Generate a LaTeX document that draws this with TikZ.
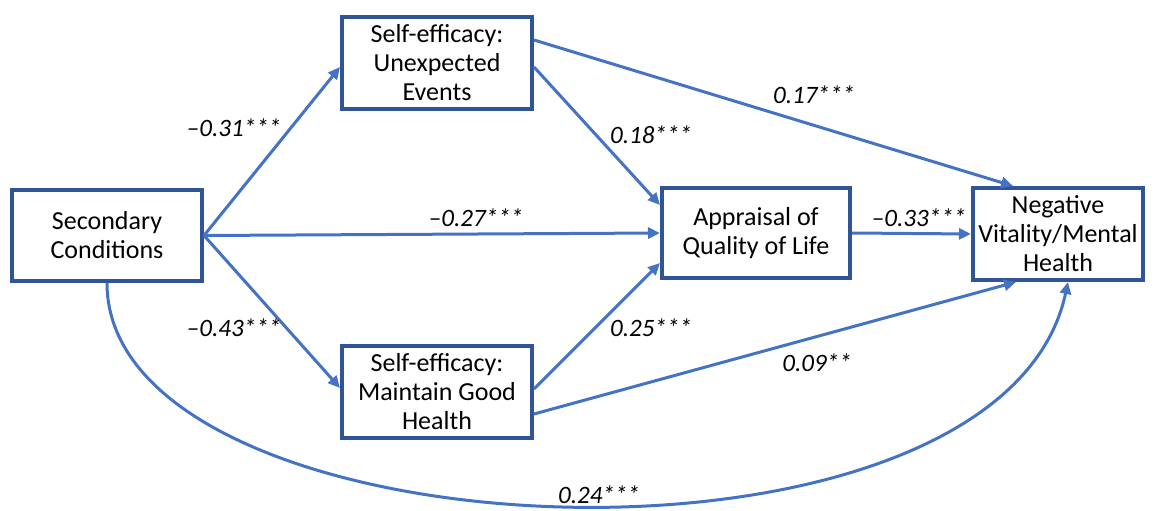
\documentclass[tikz,border=0pt]{standalone}
\usepackage{fontspec}
\setmainfont{Carlito}
\usetikzlibrary{arrows.meta,calc}
\definecolor{lineblue}{HTML}{4472C4}
\definecolor{boxblue}{HTML}{2F5597}
\begin{document}
\begin{tikzpicture}[x=1pt,y=-1pt,
  box/.style={draw=boxblue,line width=4pt,fill=white,align=center,inner sep=0pt,font=\fontsize{26}{29}\selectfont},
  conn/.style={draw=lineblue,line width=3pt,-{Triangle[length=12pt,width=11pt]}},
  lab/.style={font=\fontsize{25}{29}\selectfont\itshape,inner sep=0pt}]
\useasboundingbox (0,0) rectangle (1154,511);
\node[box,minimum width=190pt,minimum height=91pt] (sc) at (107,235.5) {Secondary\\Conditions};
\node[box,minimum width=190pt,minimum height=92pt] (seu) at (437,63) {Self-efficacy:\\Unexpected\\Events};
\node[box,minimum width=188pt,minimum height=90pt] (ap) at (756,233) {Appraisal of\\Quality of Life};
\node[box,minimum width=170pt,minimum height=92pt] (neg) at (1058,234) {Negative\\Vitality/Mental\\Health};
\node[box,minimum width=190pt,minimum height=92pt] (sem) at (437,392) {Self-efficacy:\\Maintain Good\\Health};
% connectors
\draw[conn] (sc.east) -- ($(seu.west)+(0,4)$);
\draw[conn] (sc.east) -- (ap.west);
\draw[conn] (sc.east) -- ($(sem.west)+(0,-4)$);
\draw[conn] ($(seu.east)+(0,-23)$) -- ($(neg.north west)+(42,0)$);
\draw[conn] ($(seu.east)+(0,4)$) -- ($(ap.west)+(0,-28)$);
\draw[conn] ($(sem.east)+(0,-3)$) -- ($(ap.west)+(0,30)$);
\draw[conn] ($(sem.east)+(0,22)$) -- ($(neg.south west)+(45,0)$);
\draw[conn] (ap.east) -- (neg.west);
\draw[conn] (sc.south) .. controls (107,560) and (1000,600) .. ($(neg.south)+(10,0)$);
% labels
\node[lab] (l1) at (234,128) {–0.31***};
\node[lab] (l2) at (651,135) {0.18***};
\node[lab] (l3) at (814,95) {0.17***};
\node[lab] (l4) at (476,218) {–0.27***};
\node[lab] (l5) at (919,218) {–0.33***};
\node[lab] (l6) at (234,328) {–0.43***};
\node[lab] (l7) at (651,328) {0.25***};
\node[lab] (l8) at (817,363) {0.09**};
\node[lab] (l9) at (599,495) {0.24***};
\end{tikzpicture}
\end{document}
